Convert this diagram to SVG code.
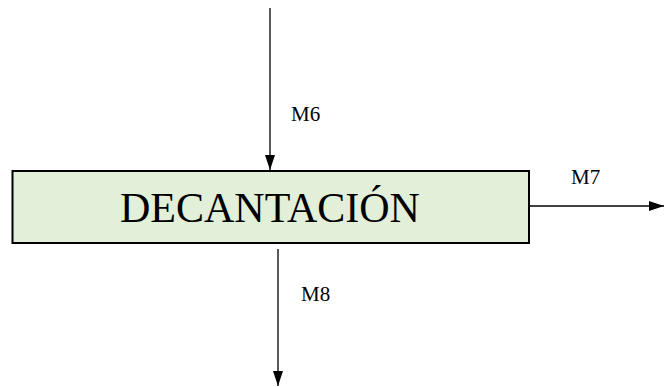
<svg xmlns="http://www.w3.org/2000/svg" width="665" height="387" viewBox="0 0 665 387">
<style>
.ln{stroke:#000;stroke-width:1.3;fill:none}
.lbl{font-family:"Liberation Serif","Times New Roman",serif;font-size:21px;fill:#000}
.title{font-family:"Liberation Serif","Times New Roman",serif;font-size:42px;fill:#000}
</style>
<defs>
<marker id="ah" markerWidth="15" markerHeight="10" refX="15" refY="5" orient="auto" markerUnits="userSpaceOnUse" viewBox="0 0 15 10">
<path d="M0,0 L15,5 L0,10 Z" fill="#000"/>
</marker>
</defs>
<rect width="665" height="387" fill="#fff"/>
<g id="decantacion">
<rect x="12.5" y="171" width="516.5" height="72" fill="#e2efd9" stroke="#000" stroke-width="2"/>
<text class="title" x="120" y="222">DECANTACIÓN</text>
</g>
<g id="connectors">
<line class="ln" x1="270" y1="8" x2="270" y2="170" marker-end="url(#ah)"/>
<line class="ln" x1="278" y1="249" x2="278" y2="386" marker-end="url(#ah)"/>
<line class="ln" x1="529" y1="206" x2="664" y2="206" marker-end="url(#ah)"/>
</g>
<g id="labels">
<text class="lbl" x="291" y="121">M6</text>
<text class="lbl" x="571" y="184">M7</text>
<text class="lbl" x="301" y="301">M8</text>
</g>
</svg>
